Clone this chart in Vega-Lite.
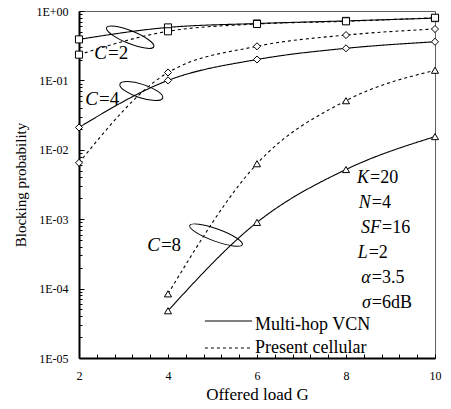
{
  "$schema": "https://vega.github.io/schema/vega-lite/v6.json",
  "width": 356,
  "height": 347,
  "autosize": {"type": "none"},
  "padding": {"left": 79, "top": 11, "right": 16, "bottom": 51},
  "background": "white",
  "config": {
    "view": {"stroke": "#606060", "strokeWidth": 1},
    "font": "Liberation Serif",
    "axis": {"grid": false, "domainColor": "black", "tickColor": "black", "labelColor": "black", "titleColor": "black", "labelFont": "Liberation Serif", "titleFont": "Liberation Serif", "titleFontWeight": "normal"}
  },
  "datasets": {
    "curves": [
      {"C": "2", "type": "Multi-hop VCN", "G": 2, "p": 0.39},
      {"C": "2", "type": "Multi-hop VCN", "G": 4, "p": 0.58},
      {"C": "2", "type": "Multi-hop VCN", "G": 6, "p": 0.66},
      {"C": "2", "type": "Multi-hop VCN", "G": 8, "p": 0.72},
      {"C": "2", "type": "Multi-hop VCN", "G": 10, "p": 0.79},
      {"C": "2", "type": "Present cellular", "G": 2, "p": 0.235},
      {"C": "2", "type": "Present cellular", "G": 4, "p": 0.51},
      {"C": "2", "type": "Present cellular", "G": 6, "p": 0.65},
      {"C": "2", "type": "Present cellular", "G": 8, "p": 0.71},
      {"C": "2", "type": "Present cellular", "G": 10, "p": 0.80},
      {"C": "4", "type": "Multi-hop VCN", "G": 2, "p": 0.021},
      {"C": "4", "type": "Multi-hop VCN", "G": 4, "p": 0.10},
      {"C": "4", "type": "Multi-hop VCN", "G": 6, "p": 0.20},
      {"C": "4", "type": "Multi-hop VCN", "G": 8, "p": 0.29},
      {"C": "4", "type": "Multi-hop VCN", "G": 10, "p": 0.36},
      {"C": "4", "type": "Present cellular", "G": 2, "p": 0.0065},
      {"C": "4", "type": "Present cellular", "G": 4, "p": 0.13},
      {"C": "4", "type": "Present cellular", "G": 6, "p": 0.31},
      {"C": "4", "type": "Present cellular", "G": 8, "p": 0.45},
      {"C": "4", "type": "Present cellular", "G": 10, "p": 0.55},
      {"C": "8", "type": "Multi-hop VCN", "G": 4, "p": 0.000048},
      {"C": "8", "type": "Multi-hop VCN", "G": 6, "p": 0.0009},
      {"C": "8", "type": "Multi-hop VCN", "G": 8, "p": 0.0052},
      {"C": "8", "type": "Multi-hop VCN", "G": 10, "p": 0.0155},
      {"C": "8", "type": "Present cellular", "G": 4, "p": 0.000084},
      {"C": "8", "type": "Present cellular", "G": 6, "p": 0.0063},
      {"C": "8", "type": "Present cellular", "G": 8, "p": 0.051},
      {"C": "8", "type": "Present cellular", "G": 10, "p": 0.14}
    ],
    "clabels": [
      {"var": "C", "rest": "=2", "G": 2.65, "p": 0.248},
      {"var": "C", "rest": "=4", "G": 2.45, "p": 0.054},
      {"var": "C", "rest": "=8", "G": 3.84, "p": 0.000425}
    ],
    "params": [
      {"var": "K", "rest": "=20", "G": 8.54, "p": 0.00392},
      {"var": "N", "rest": "=4", "G": 8.58, "p": 0.00171},
      {"var": "SF", "rest": "=16", "G": 8.81, "p": 0.000747},
      {"var": "L", "rest": "=2", "G": 8.51, "p": 0.000326},
      {"var": "α", "rest": "=3.5", "G": 8.58, "p": 0.000142},
      {"var": "σ", "rest": "=6dB", "G": 8.58, "p": 0.000062}
    ],
    "legend": [
      {"type": "Multi-hop VCN", "G1": 4.83, "G2": 5.89, "p": 0.0000341, "pt": 0.0000299},
      {"type": "Present cellular", "G1": 4.83, "G2": 5.89, "p": 0.0000139, "pt": 0.0000139}
    ]
  },
  "encoding": {
    "x": {"field": "G", "type": "quantitative",
      "scale": {"domain": [2, 10], "nice": false, "zero": false},
      "axis": {"title": "Offered load G", "values": [2, 2.4, 2.8, 3.2, 3.6, 4, 4.4, 4.8, 5.2, 5.6, 6, 6.4, 6.8, 7.2, 7.6, 8, 8.4, 8.8, 9.2, 9.6, 10],
        "labelExpr": "datum.value % 2 == 0 ? format(datum.value, 'd') : ''", "tickSize": -4, "labelPadding": 16, "labelFontSize": 12, "titleFontSize": 17, "titlePadding": 5, "domainWidth": 2, "labelFlush": false}},
    "y": {"field": "p", "type": "quantitative",
      "scale": {"type": "log", "domain": [0.00001, 1], "nice": false},
      "axis": {"title": "Blocking probability",
        "values": [0.00001, 0.00002, 0.00003, 0.00004, 0.00005, 0.00006, 0.00007, 0.00008, 0.00009, 0.0001, 0.0002, 0.0003, 0.0004, 0.0005, 0.0006, 0.0007, 0.0008, 0.0009, 0.001, 0.002, 0.003, 0.004, 0.005, 0.006, 0.007, 0.008, 0.009, 0.01, 0.02, 0.03, 0.04, 0.05, 0.06, 0.07, 0.08, 0.09, 0.1, 0.2, 0.3, 0.4, 0.5, 0.6, 0.7, 0.8, 0.9, 1],
        "labelExpr": "abs(log(datum.value)/LN10 - round(log(datum.value)/LN10)) < 0.001 ? ('1E' + (datum.value >= 0.999 ? '+00' : '-0' + round(-log(datum.value)/LN10))) : ''",
        "tickSize": {"condition": {"test": "abs(log(datum.value)/LN10 - round(log(datum.value)/LN10)) < 0.001", "value": -5}, "value": -3},
        "labelPadding": 16, "labelFontSize": 12, "titleFontSize": 15, "titlePadding": 7, "domainWidth": 2, "labelFlush": false}}
  },
  "layer": [
    {
      "data": {"name": "curves"},
      "mark": {"type": "line", "interpolate": "monotone", "color": "black", "strokeWidth": 1.1},
      "encoding": {
        "detail": {"field": "C"},
        "strokeDash": {"field": "type", "type": "nominal", "scale": {"domain": ["Multi-hop VCN", "Present cellular"], "range": [[1, 0], [3, 3]]}, "legend": null}
      }
    },
    {
      "data": {"name": "curves"},
      "mark": {"type": "point", "filled": false, "fill": "white", "fillOpacity": 1, "stroke": "black", "strokeWidth": 1, "size": 50, "opacity": 1},
      "encoding": {
        "shape": {"field": "C", "type": "nominal", "scale": {"domain": ["2", "4", "8"], "range": ["square", "diamond", "triangle-up"]}, "legend": null}
      }
    },
    {
      "data": {"values": [{"G": 3.15, "p": 0.42}]},
      "mark": {"type": "point", "shape": "M-1,0 A1,0.25 0 1,1 1,0 A1,0.25 0 1,1 -1,0 Z", "size": 2600, "angle": 22, "filled": false, "stroke": "black", "strokeWidth": 1, "opacity": 1}
    },
    {
      "data": {"values": [{"G": 3.40, "p": 0.0703}]},
      "mark": {"type": "point", "shape": "M-1,0 A1,0.3 0 1,1 1,0 A1,0.3 0 1,1 -1,0 Z", "size": 2025, "angle": 18, "filled": false, "stroke": "black", "strokeWidth": 1, "opacity": 1}
    },
    {
      "data": {"values": [{"G": 5.08, "p": 0.00059}]},
      "mark": {"type": "point", "shape": "M-1,0 A1,0.22 0 1,1 1,0 A1,0.22 0 1,1 -1,0 Z", "size": 3136, "angle": 20, "filled": false, "stroke": "black", "strokeWidth": 1, "opacity": 1}
    },
    {
      "data": {"name": "clabels"},
      "mark": {"type": "text", "align": "right", "baseline": "middle", "fontStyle": "italic", "fontSize": 19, "font": "Times New Roman", "color": "black", "dx": -1},
      "encoding": {"text": {"field": "var"}}
    },
    {
      "data": {"name": "clabels"},
      "mark": {"type": "text", "align": "left", "baseline": "middle", "fontSize": 19, "font": "Times New Roman", "color": "black"},
      "encoding": {"text": {"field": "rest"}}
    },
    {
      "data": {"name": "params"},
      "mark": {"type": "text", "align": "right", "baseline": "middle", "fontStyle": "italic", "fontSize": 18, "font": "Times New Roman", "color": "black", "dx": -1},
      "encoding": {"text": {"field": "var"}}
    },
    {
      "data": {"name": "params"},
      "mark": {"type": "text", "align": "left", "baseline": "middle", "fontSize": 18, "font": "Times New Roman", "color": "black"},
      "encoding": {"text": {"field": "rest"}}
    },
    {
      "data": {"name": "legend"},
      "mark": {"type": "rule", "color": "black", "strokeWidth": 1.1},
      "encoding": {
        "x": {"field": "G1", "type": "quantitative"},
        "x2": {"field": "G2"},
        "strokeDash": {"field": "type", "type": "nominal", "scale": {"domain": ["Multi-hop VCN", "Present cellular"], "range": [[1, 0], [3, 3]]}, "legend": null}
      }
    },
    {
      "data": {"name": "legend"},
      "mark": {"type": "text", "align": "left", "baseline": "middle", "fontSize": 18, "font": "Times New Roman", "color": "black", "dx": 3},
      "encoding": {
        "x": {"field": "G2", "type": "quantitative"},
        "y": {"field": "pt", "type": "quantitative"},
        "text": {"field": "type"}
      }
    }
  ]
}
